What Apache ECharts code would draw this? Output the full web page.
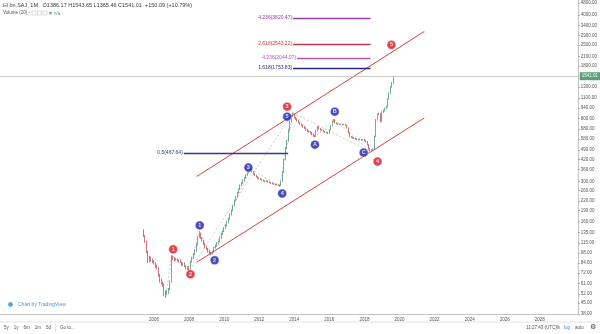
<!DOCTYPE html>
<html>
<head>
<meta charset="utf-8">
<script src="https://cdn.jsdelivr.net/npm/echarts@6/dist/echarts.min.js"></script>
<style>
  html, body { margin: 0; padding: 0; background: #ffffff; }
  #chart { width: 600px; height: 334px; }
</style>
</head>
<body>
<div id="chart"></div>
<script>
// Monthly bars, June 2005 .. September 2019
const firstMonth = [2005, 6];

const opens = [
  140, 128, 118, 100, 86, 92, 88,
  86, 84, 80, 78, 70, 64, 62, 60, 54, 52, 53, 56,
  63, 92, 90, 88, 89, 88, 87, 85, 82, 84, 80, 78,
  79, 77, 86, 92, 96, 102, 112, 126, 134, 124, 120, 113,
  108, 105, 101, 99, 97, 100, 106, 110, 114, 117, 124, 132,
  138, 145, 150, 158, 166, 178, 190, 205, 222, 235, 250, 265,
  282, 292, 305, 316, 330, 345, 352, 360, 350, 338, 330, 322,
  316, 312, 310, 306, 302, 300, 302, 298, 295, 292, 290, 288,
  286, 285, 283, 280, 300, 345, 420, 500, 560, 670, 760, 830,
  850, 810, 790, 770, 750, 730, 720, 700, 690, 670, 655, 650,
  640, 625, 610, 605, 660, 700, 680, 670, 660, 650, 645, 640,
  635, 670, 710, 760, 780, 745, 735, 730, 728, 730, 725, 728,
  720, 690, 640, 600, 595, 590, 585, 580, 575, 578, 575, 572,
  575, 565, 555, 530, 500, 485, 488, 495, 600, 780, 850, 860,
  760, 880, 900, 930, 960, 1080, 1180, 1300, 1386.17
];
const closes = [
  128, 118, 100, 86, 92, 88, 86,
  84, 80, 78, 70, 64, 62, 60, 54, 52, 53, 56, 63,
  92, 90, 88, 89, 88, 87, 85, 82, 84, 80, 78, 79,
  77, 86, 92, 96, 102, 112, 126, 134, 124, 120, 113, 108,
  105, 101, 99, 97, 100, 106, 110, 114, 117, 124, 132, 138,
  145, 150, 158, 166, 178, 190, 205, 222, 235, 250, 265, 282,
  292, 305, 316, 330, 345, 352, 360, 350, 338, 330, 322, 316,
  312, 310, 306, 302, 300, 302, 298, 295, 292, 290, 288, 286,
  285, 283, 280, 300, 345, 420, 500, 560, 670, 760, 830, 850,
  810, 790, 770, 750, 730, 720, 700, 690, 670, 655, 650, 640,
  625, 610, 605, 660, 700, 680, 670, 660, 650, 645, 640, 635,
  670, 710, 760, 780, 745, 735, 730, 728, 730, 725, 728, 720,
  690, 640, 600, 595, 590, 585, 580, 575, 578, 575, 572, 575,
  565, 555, 530, 500, 485, 488, 495, 600, 780, 850, 860, 760,
  880, 900, 930, 960, 1080, 1180, 1300, 1390.92, 1541.01
];
const lows = [
  126, 115, 98, 84, 85, 86, 84,
  82, 78, 76, 68, 62, 60, 58, 50, 49, 51, 52, 55,
  62, 88, 86, 87, 86, 85, 84, 80, 81, 79, 76, 75,
  74, 76, 85, 90, 95, 100, 110, 124, 122, 117, 111, 106,
  103, 99, 97, 95, 96, 99, 105, 108, 112, 116, 122, 130,
  136, 143, 148, 156, 164, 176, 188, 203, 219, 232, 247, 262,
  278, 288, 300, 312, 326, 340, 348, 345, 333, 325, 318, 312,
  308, 306, 302, 298, 296, 297, 294, 291, 288, 286, 284, 282,
  281, 279, 276, 278, 298, 342, 415, 495, 555, 660, 750, 820,
  800, 780, 760, 740, 720, 710, 690, 680, 660, 645, 640, 630,
  615, 600, 595, 600, 655, 672, 662, 652, 642, 638, 632, 628,
  630, 665, 705, 752, 738, 728, 722, 720, 721, 718, 719, 712,
  684, 634, 594, 588, 584, 579, 574, 569, 570, 569, 566, 566,
  559, 549, 524, 494, 478, 480, 483, 492, 596, 772, 840, 752,
  755, 870, 890, 920, 950, 1070, 1168, 1288, 1365.46
];
const highs = [
  142, 130, 119, 102, 94, 93, 90,
  88, 85, 82, 79, 71, 66, 63, 61, 55, 55, 57, 64,
  95, 94, 92, 91, 90, 89, 89, 86, 85, 85, 81, 80,
  80, 87, 93, 98, 104, 114, 128, 138, 135, 126, 121, 115,
  109, 106, 103, 100, 101, 108, 112, 116, 119, 126, 134, 140,
  147, 153, 160, 169, 181, 193, 208, 226, 239, 254, 269, 286,
  296, 309, 320, 335, 350, 357, 366, 363, 352, 341, 333, 325,
  319, 315, 313, 309, 305, 305, 304, 300, 297, 295, 292, 290,
  289, 287, 285, 303, 350, 428, 510, 570, 680, 772, 845, 872,
  858, 818, 798, 778, 758, 738, 728, 708, 698, 678, 662, 658,
  648, 632, 618, 668, 710, 708, 688, 676, 666, 656, 650, 646,
  676, 718, 768, 792, 786, 752, 742, 736, 737, 736, 734, 733,
  725, 695, 645, 606, 601, 596, 591, 586, 583, 584, 580, 580,
  580, 570, 560, 535, 505, 494, 500, 610, 792, 862, 875, 868,
  892, 915, 945, 975, 1095, 1195, 1318, 1405, 1543.65
];

// Price scale tick labels (log scale) and year labels
const priceTicks = [4800, 4000, 3400, 2900, 2500, 2100, 1800, 1300, 1100, 940, 800, 680, 580,
  490, 420, 360, 300, 260, 220, 190, 160, 135, 115, 98, 84, 72, 61, 52, 45, 38];
const yearTicks = [2006, 2008, 2010, 2012, 2014, 2016, 2018, 2020, 2022, 2024, 2026, 2028];

// Rising channel (upper and lower rails)
const channelUpper = [['2008-06-08', 323.3], ['2021-05-30', 3091]];
const channelLower = [['2008-06-08', 85.1], ['2021-05-30', 804.5]];

// Fibonacci levels
const fibRatios = ['4.236', '2.618', '4.236', '1.618', '0.5'];
const fibPrices = [3820.47, 2543.22, 2044.07, 1753.83, 467.64];
const fibFrom = ['2013-12-06', '2013-12-06', '2014-02-27', '2013-12-06', '2007-09-13'];
const fibTo = ['2018-05-08', '2018-05-08', '2018-05-08', '2018-05-08', '2013-08-25'];

// Wave pivots
const redWave = [['2006-09-01', 49], ['2007-01-01', 95], ['2008-01-01', 74], ['2013-12-01', 872], ['2018-05-01', 478]];
const blueWave = [['2008-01-01', 74], ['2008-08-01', 138], ['2009-04-01', 95], ['2011-07-01', 366], ['2013-03-01', 276], ['2013-12-01', 872]];
const correction = [['2013-12-01', 872], ['2015-03-01', 595], ['2016-04-01', 792], ['2018-05-01', 478]];

// Wave labels
const waveNames = ['1', '2', '3', '4', '5', '1', '2', '3', '4', '5', 'A', 'B', 'C'];
const waveDates = ['2007-02-04', '2008-01-30', '2013-08-04', '2018-10-01', '2019-07-17',
  '2008-08-10', '2009-06-16', '2011-05-20', '2013-04-23', '2013-08-04',
  '2015-03-07', '2016-04-23', '2017-12-15'];
const wavePrices = [104, 70.6, 958.8, 408, 2511, 151, 87.7, 371.6, 248, 820.8, 531, 887, 469];
const waveDegree = ['major', 'major', 'major', 'major', 'major',
  'minor', 'minor', 'minor', 'minor', 'minor', 'minor', 'minor', 'minor'];

// ---- build ----
const ts = d => Date.parse(d + 'T00:00:00Z');
const pts = arr => arr.map(p => [ts(p[0]), p[1]]);

const monthDates = opens.map((_, i) => {
  const t = firstMonth[0] * 12 + (firstMonth[1] - 1) + i;
  const y = Math.floor(t / 12), m = t % 12 + 1;
  return y + '-' + (m < 10 ? '0' : '') + m + '-01';
});
const candleData = opens.map((o, i) => [ts(monthDates[i]), o, closes[i], lows[i], highs[i]]);

const n = closes.length;
const lastClose = closes[n - 1];
const prevClose = closes[n - 2];
const chg = lastClose - prevClose;
const pct = chg / prevClose * 100;

const FONT = 'Liberation Sans, Arial, sans-serif';
const fibColors = ['#9a3ea8', '#c4364f', '#b655b8', '#2b2b7e', '#2d3a8e'];
const degreeColor = { major: '#d8161f', minor: '#1b1fa8' };

const fibMarks = fibPrices.map((p, i) => [
  {
    coord: [ts(fibFrom[i]), p],
    lineStyle: { color: fibColors[i], width: 1.4, type: 'solid' },
    label: {
      show: true, position: 'start', distance: 1,
      formatter: fibRatios[i] + '(' + p.toFixed(2) + ')',
      color: fibColors[i], fontSize: 5, fontFamily: FONT
    }
  },
  { coord: [ts(fibTo[i]), p] }
]);

const dashed = { color: '#a8a8a8', width: 0.6, type: [2, 2] };
function waveLine(name, arr) {
  return {
    name, type: 'line', data: pts(arr), symbol: 'none', silent: true,
    lineStyle: dashed, z: 1
  };
}

const yearValues = yearTicks.map(y => ts(y + '-01-01'));

const chart = echarts.init(document.getElementById('chart'), null, { renderer: 'canvas' });
chart.setOption({
  animation: false,
  backgroundColor: '#ffffff',
  grid: { left: 0, right: 18, top: 0, bottom: 20 },
  xAxis: {
    type: 'value',
    min: ts('1997-03-20'),
    max: ts('2030-03-12'),
    axisLine: { show: true, onZero: false, lineStyle: { color: '#c4c4c4', width: 1 } },
    axisTick: { show: false },
    splitLine: { show: false },
    axisLabel: {
      customValues: yearValues,
      formatter: v => String(new Date(v).getUTCFullYear()),
      fontSize: 4.5, color: '#555', margin: 3, fontFamily: FONT
    }
  },
  yAxis: {
    type: 'log',
    logBase: 10,
    position: 'right',
    min: 38,
    max: 5049,
    axisLine: { show: true, lineStyle: { color: '#c4c4c4', width: 1 } },
    axisTick: { show: true, customValues: priceTicks, length: 1.5, lineStyle: { color: '#999' } },
    splitLine: { show: false },
    axisLabel: {
      customValues: priceTicks,
      formatter: v => Number(v).toFixed(2),
      fontSize: 4.5, color: '#555', margin: 2.5, fontFamily: FONT
    }
  },
  series: [
    {
      name: 'price', type: 'candlestick', data: candleData,
      encode: { x: 0, y: [1, 2, 3, 4] },
      barWidth: 1,
      itemStyle: {
        color: '#4e9a78', color0: '#c4505a',
        borderColor: '#4e9a78', borderColor0: '#c4505a', borderWidth: 0.8
      },
      z: 3,
      markLine: {
        silent: true, symbol: 'none',
        lineStyle: { color: '#b9b9b9', width: 0.7, type: 'solid' },
        label: {
          show: true, position: 'end', distance: 1.5,
          formatter: lastClose.toFixed(2),
          color: '#ffffff', backgroundColor: '#5a9e7a',
          padding: [1.5, 2], fontSize: 4.5, fontFamily: FONT
        },
        data: [{ yAxis: lastClose }]
      }
    },
    {
      name: 'channel upper', type: 'line', data: pts(channelUpper), symbol: 'none', silent: true,
      lineStyle: { color: '#d32a2a', width: 0.9 }, z: 4
    },
    {
      name: 'channel lower', type: 'line', data: pts(channelLower), symbol: 'none', silent: true,
      lineStyle: { color: '#d32a2a', width: 0.9 }, z: 4
    },
    {
      name: 'fib', type: 'line', data: [], silent: true,
      markLine: { silent: true, symbol: 'none', data: fibMarks }
    },
    waveLine('red wave', redWave),
    waveLine('blue wave', blueWave),
    waveLine('correction', correction),
    {
      name: 'wave labels', type: 'scatter', silent: true, z: 6,
      symbol: 'circle', symbolSize: 9,
      data: waveNames.map((t, i) => ({
        value: [ts(waveDates[i]), wavePrices[i]],
        name: t,
        itemStyle: { color: degreeColor[waveDegree[i]], borderColor: '#ffffff', borderWidth: 0.6 }
      })),
      label: {
        show: true, position: 'inside', formatter: p => p.name,
        color: '#ffffff', fontSize: 5.5, fontWeight: 'bold', fontFamily: FONT
      }
    }
  ],
  graphic: [
    {
      type: 'text', left: 3, top: 2,
      style: {
        text: '⊟ bn.SAJ, 1M   O' + opens[n - 1].toFixed(2) + ' H' + highs[n - 1].toFixed(2) +
          ' L' + lows[n - 1].toFixed(2) + ' C' + lastClose.toFixed(2) +
          '  +' + chg.toFixed(2) + ' (+' + pct.toFixed(2) + '%)',
        fill: '#3a3a3a', fontSize: 5.5, fontFamily: FONT
      }
    },
    {
      type: 'text', left: 3, top: 10.5,
      style: { text: 'Volume (20) -', fill: '#555', fontSize: 4.5, fontFamily: FONT }
    },
    { type: 'rect', shape: { x: 32, y: 11, width: 4, height: 4 }, style: { fill: '#fff', stroke: '#bbb', lineWidth: 0.5 } },
    { type: 'rect', shape: { x: 37.5, y: 11, width: 4, height: 4 }, style: { fill: '#fff', stroke: '#bbb', lineWidth: 0.5 } },
    { type: 'rect', shape: { x: 43, y: 11, width: 4, height: 4 }, style: { fill: '#fff', stroke: '#bbb', lineWidth: 0.5 } },
    { type: 'circle', shape: { cx: 50.5, cy: 13, r: 1.5 }, style: { fill: '#9aa7b0' } },
    {
      type: 'text', left: 54, top: 11,
      style: { text: 'n/a', fill: '#4e9a78', fontSize: 4.5, fontFamily: FONT }
    },
    { type: 'circle', shape: { cx: 10.5, cy: 304.5, r: 2.4 }, style: { fill: '#58a6e0' } },
    {
      type: 'text', left: 18, top: 302,
      style: { text: 'Chart by TradingView', fill: '#4a9ad8', fontSize: 5, fontFamily: FONT }
    },
    { type: 'line', shape: { x1: 0, y1: 322, x2: 600, y2: 322 }, style: { stroke: '#e2e2e2', lineWidth: 1 } },
    {
      type: 'text', left: 4, top: 325,
      style: { text: '5y    1y    6m    1m    5d', fill: '#555', fontSize: 4.5, fontFamily: FONT }
    },
    { type: 'line', shape: { x1: 55.5, y1: 324, x2: 55.5, y2: 332 }, style: { stroke: '#d5d5d5', lineWidth: 0.6 } },
    {
      type: 'text', left: 60, top: 325,
      style: { text: 'Go to...', fill: '#555', fontSize: 4.5, fontFamily: FONT }
    },
    {
      type: 'text', left: 526, top: 325,
      style: { text: '11:27:43 (UTC)', fill: '#555', fontSize: 4.5, fontFamily: FONT }
    },
    { type: 'line', shape: { x1: 552.5, y1: 324, x2: 552.5, y2: 332 }, style: { stroke: '#d5d5d5', lineWidth: 0.6 } },
    { type: 'text', left: 556, top: 325, style: { text: '%', fill: '#555', fontSize: 4.5, fontFamily: FONT } },
    { type: 'text', left: 564, top: 325, style: { text: 'log', fill: '#2f8fd8', fontSize: 4.5, fontFamily: FONT } },
    { type: 'text', left: 575, top: 325, style: { text: 'auto', fill: '#555', fontSize: 4.5, fontFamily: FONT } },
    { type: 'text', left: 590, top: 323.5, style: { text: '⚙', fill: '#444', fontSize: 7, fontFamily: 'DejaVu Sans' } }
  ]
});
</script>
</body>
</html>
